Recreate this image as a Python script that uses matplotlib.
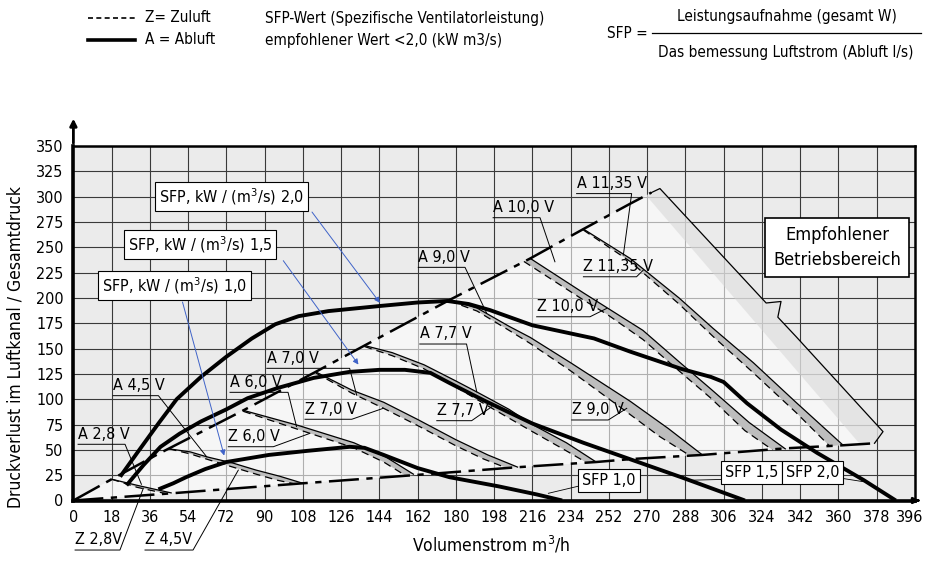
import numpy as np
import matplotlib.pyplot as plt
from matplotlib import font_manager as fm
from matplotlib.transforms import ScaledTranslation

# schmale Schrift, falls vorhanden
names = {f.name for f in fm.fontManager.ttflist}
files = [f.fname for f in fm.fontManager.ttflist]
if 'Liberation Sans Narrow' in names:
    plt.rcParams['font.family'] = ['Liberation Sans Narrow', 'DejaVu Sans']
elif any('DejaVuSansCondensed' in f for f in files):
    plt.rcParams['font.family'] = ['DejaVu Sans']
    plt.rcParams['font.stretch'] = 'condensed'
else:
    plt.rcParams['font.family'] = ['Roboto', 'DejaVu Sans']

W, H = 925, 580

# Achsenraster
x_ticks = list(range(0, 397, 18))
y_ticks = list(range(0, 351, 25))

# SFP-Linien (dick)
sfp20_x = [22, 30, 40, 48.6, 60, 72, 84, 95, 106, 120, 144, 162, 176, 186, 196, 216, 245, 262, 286, 300, 306, 317, 333, 350, 372, 387]
sfp20_y = [23.5, 47, 76, 100, 122, 142, 160, 174, 182, 187, 192, 195.5, 197, 194, 188, 173, 160, 147, 130, 122, 117, 96, 70, 47, 20, 0]
sfp15_x = [25, 33, 41, 50, 60, 72, 82, 96, 113, 130, 144, 156, 168, 177, 193, 216, 240, 263, 286, 316]
sfp15_y = [15, 35, 53, 66, 78, 90, 101, 111, 121, 127, 129, 129, 126, 116, 99, 76, 57, 40, 23, 0]
sfp10_x = [40, 47, 53, 62, 72, 92, 110, 130, 137, 146, 162, 177, 200, 218, 230]
sfp10_y = [11, 17, 23, 31, 38, 45, 49, 53, 52, 45, 32, 23, 14, 6, 0]

# Grenzen Betriebsbereich
upper_x = [0, 18, 40, 80, 114, 137, 177, 215, 240, 262, 272]
upper_y = [0, 21, 46, 89, 127, 153, 198, 239, 268, 293, 304]
right_x = [272, 276, 326, 333, 331.5, 340, 381, 377]
right_y = [304, 308, 195, 196.5, 181, 162, 68, 56.5]
lower_x = [0, 45.5, 108, 131, 160, 208.6, 246, 263, 296, 335, 362, 377]
lower_y = [0, 7, 17, 20.5, 25, 32.8, 38, 41, 45, 51.5, 54.5, 56.5]
band_x = [270, 276, 326, 333, 331.5, 340, 381, 377, 370]
band_y = [300, 308, 195, 196.5, 181, 162, 68, 56.5, 56]

# Ventilatorkennlinien A (Abluft) / Z (Zuluft)
a28_x, a28_y = [18, 30, 46], [21, 15, 7.5]
z28_x, z28_y = [18, 30, 43], [21, 13, 7]
a45_x, a45_y = [45, 55, 63, 75, 86, 97, 108], [51, 48, 43, 37, 30, 24, 17]
z45_x, z45_y = [45, 55, 64, 75, 86, 96, 104], [51, 46, 40, 33, 26, 20, 16.5]
a60_x, a60_y = [80, 106, 132, 147, 160], [89, 74, 57, 43, 26]
z60_x, z60_y = [80, 106, 132, 146, 156], [88, 70, 52, 38, 25]
a70_x, a70_y = [114, 131, 146, 162, 180, 195, 209], [127, 109, 97, 80, 60, 45, 33]
z70_x, z70_y = [114, 131, 146, 162, 180, 193, 204], [126, 106, 91, 74, 54, 41, 32]
a77_x, a77_y = [137, 150, 165, 180, 190, 205, 216, 232, 246], [153, 146, 134, 118, 107, 90, 75, 57, 38]
z77_x, z77_y = [137, 150, 165, 180, 197, 216, 232, 241], [152, 143, 130, 112, 91, 68, 49, 38]
a90_x, a90_y = [177, 190, 205, 215, 234, 262, 280, 296], [198, 190, 172, 161, 136, 98, 71, 45]
z90_x, z90_y = [177, 190, 205, 215, 234, 260, 276, 290], [197, 187, 168, 155, 128, 88, 63, 44.5]
a100_x, a100_y = [215, 240, 268, 285, 300, 318, 335], [239, 205, 168, 137, 110, 77, 51]
z100_x, z100_y = [212, 240, 251, 268, 285, 300, 316, 329], [236, 198, 184, 159, 128, 101, 69, 50]
a1135_x, a1135_y = [240, 262, 285, 301, 320, 340, 362], [268, 239, 200, 170, 136, 97, 55]
z1135_x, z1135_y = [240, 262, 285, 301, 320, 340, 356], [267, 236, 194, 162, 126, 87, 53.5]

fans = [(a28_x, a28_y, z28_x, z28_y), (a45_x, a45_y, z45_x, z45_y),
        (a60_x, a60_y, z60_x, z60_y), (a70_x, a70_y, z70_x, z70_y),
        (a77_x, a77_y, z77_x, z77_y), (a90_x, a90_y, z90_x, z90_y),
        (a100_x, a100_y, z100_x, z100_y), (a1135_x, a1135_y, z1135_x, z1135_y)]

fig = plt.figure(figsize=(W / 100, H / 100), dpi=100)
ax = fig.add_axes([73.4 / W, 79.5 / H, 841.5 / W, 354.5 / H])
ax.set_xlim(0, 396)
ax.set_ylim(0, 350)
ax.set_facecolor('#ebebeb')
ax.set_axisbelow(True)
ax.set_xticks(x_ticks)
ax.set_yticks(y_ticks)
ax.grid(True, color='#3a3a3a', lw=0.8)
ax.tick_params(length=0, labelsize=11.5, pad=7)
# letzte Beschriftung (396) nicht abschneiden
last = ax.get_xticklabels()[-1]
last.set_horizontalalignment('right')
last.set_transform(last.get_transform() + ScaledTranslation(8 / 100, 0, fig.dpi_scale_trans))

# Betriebsbereich
ax.fill(upper_x + right_x[1:] + lower_x[::-1], upper_y + right_y[1:] + lower_y[::-1],
        color='white', alpha=0.6, lw=0, zorder=1)
ax.fill(band_x, band_y, color='#d4d4d4', alpha=0.5, lw=0, zorder=1.5)

for axx, ayy, zxx, zyy in fans:
    ax.fill(axx + zxx[::-1], ayy + zyy[::-1], color='#bdbdbd', lw=0, zorder=2)
    ax.plot(axx, ayy, color='black', lw=0.9, zorder=3)
    ax.plot(zxx, zyy, color='black', lw=0.9, ls=(0, (6, 4)), zorder=3)

dashdot = (0, (12, 3, 2.5, 3))
ax.plot(upper_x, upper_y, color='black', lw=1.8, ls=dashdot, zorder=3.5)
ax.plot(lower_x, lower_y, color='black', lw=1.8, ls=dashdot, zorder=3.5)
ax.plot(right_x, right_y, color='black', lw=0.9, zorder=3.5)

for sx, sy in [(sfp20_x, sfp20_y), (sfp15_x, sfp15_y), (sfp10_x, sfp10_y)]:
    ax.plot(sx, sy, color='black', lw=2.8, solid_capstyle='butt', zorder=4)

for side in ['left', 'bottom']:
    ax.spines[side].set_linewidth(2.6)
for side in ['top', 'right']:
    ax.spines[side].set_linewidth(1.8)
ax.annotate('', xy=(0, 1.085), xytext=(0, 1.0), xycoords='axes fraction',
            arrowprops=dict(arrowstyle='-|>', lw=2, color='black', mutation_scale=10))
ax.annotate('', xy=(1.009, 0), xytext=(1.0, 0), xycoords='axes fraction',
            arrowprops=dict(arrowstyle='-|>', lw=2, color='black', mutation_scale=8))

# beschriftete Kennlinien
def tag(text, x0, y0, x1, tx, ty):
    ax.text(x0, y0 + 2.5, text, fontsize=11.5, ha='left', va='bottom', zorder=6, clip_on=False)
    ax.plot([x0, x1, tx], [y0, y0, ty], color='black', lw=0.7, zorder=6, clip_on=False)

tag('A 2,8 V', 2.2, 55.5, 24.3, 32, 16)
tag('A 4,5 V', 18.7, 103.5, 40, 62.7, 43.2)
tag('A 6,0 V', 73.7, 106.8, 101, 105, 73)
tag('A 7,0 V', 91, 130.5, 130, 133.3, 104)
tag('Z 6,0 V', 72.9, 53.1, 94.1, 111.3, 66.3)
tag('Z 7,0 V', 109, 80.2, 131, 145.8, 91)
tag('A 7,7 V', 163, 154.5, 185, 189.8, 107.4)
tag('Z 7,7 V', 171, 78.8, 187.4, 196.9, 92.6)
tag('Z 9,0 V', 234.5, 79.5, 251.7, 260.4, 91)
tag('A 9,0 V', 162.3, 230.2, 184.3, 194.5, 184.8)
tag('A 10,0 V', 197.5, 279.2, 219.6, 226.6, 235.7)
tag('Z 10,0 V', 218, 181.4, 243.1, 251, 189.7)
tag('A 11,35 V', 236.8, 303, 262.7, 258.8, 242.3)
tag('Z 11,35 V', 240, 220.9, 265, 268.2, 227.5)
tag('Z 2,8V', 0.8, -48.9, 21.9, 32.9, 12)
tag('Z 4,5V', 33.7, -48.9, 56.3, 77.6, 30)

# SFP-Kästen mit Pfeilen
box = dict(boxstyle='square,pad=0.25', fc='white', ec='black', lw=0.8)
blue = '#3f63c8'
for txt, bx, by, sx, sy, tx, ty in [
        ('SFP, kW / (m$^3$/s) 2,0', 74.2, 300, 111.5, 287, 145, 193),
        ('SFP, kW / (m$^3$/s) 1,5', 59.5, 252.7, 98, 239, 134.9, 132),
        ('SFP, kW / (m$^3$/s) 1,0', 47.7, 212.2, 51, 198.6, 71.3, 41.7)]:
    ax.text(bx, by, txt, fontsize=11.5, ha='center', va='center', bbox=box, zorder=7)
    ax.annotate('', xy=(tx, ty), xytext=(sx, sy),
                arrowprops=dict(arrowstyle='-|>', color=blue, lw=0.7, mutation_scale=8), zorder=7)

for txt, bx, by, sx, sy, tx, ty in [
        ('SFP 1,0', 252, 20.2, 240, 15.3, 223.5, 7.1),
        ('SFP 1,5', 319, 27.3, 307.1, 20.9, 290, 20),
        ('SFP 2,0', 347.7, 27.3, 361.6, 21.9, 371.7, 18.6)]:
    ax.plot([sx, tx], [sy, ty], color='black', lw=0.6, zorder=6)
    ax.text(bx, by, txt, fontsize=11.5, ha='center', va='center', bbox=box, zorder=7)

ax.text(359.4, 249.8, 'Empfohlener\nBetriebsbereich', fontsize=13, ha='center', va='center',
        linespacing=1.5, bbox=dict(boxstyle='square,pad=0.45', fc='white', ec='black', lw=1.2), zorder=7)

# Achsentitel
fig.text(16 / W, 1 - 347 / H, 'Druckverlust im Luftkanal / Gesamtdruck', rotation=90,
         fontsize=12.5, ha='center', va='center')
fig.text(491 / W, 1 - 545 / H, 'Volumenstrom m$^3$/h', fontsize=12.5, ha='center', va='center')

# Kopfzeile
fig.add_artist(plt.Line2D([88 / W, 135 / W], [1 - 18 / H, 1 - 18 / H], color='black', lw=1.2, ls=(0, (3, 2))))
fig.add_artist(plt.Line2D([88 / W, 135 / W], [1 - 40 / H, 1 - 40 / H], color='black', lw=2.6))
fig.text(145 / W, 1 - 18 / H, 'Z= Zuluft', fontsize=11, va='center')
fig.text(145 / W, 1 - 40 / H, 'A = Abluft', fontsize=11, va='center')
fig.text(265 / W, 1 - 18 / H, 'SFP-Wert (Spezifische Ventilatorleistung)', fontsize=11, va='center')
fig.text(265 / W, 1 - 40 / H, 'empfohlener Wert <2,0 (kW m3/s)', fontsize=11, va='center')
fig.text(648 / W, 1 - 33 / H, 'SFP =', fontsize=11, ha='right', va='center')
fig.add_artist(plt.Line2D([652 / W, 921 / W], [1 - 33 / H, 1 - 33 / H], color='black', lw=0.9))
fig.text(787 / W, 1 - 16 / H, 'Leistungsaufnahme (gesamt W)', fontsize=11, ha='center', va='center')
fig.text(786 / W, 1 - 52 / H, 'Das bemessung Luftstrom (Abluft l/s)', fontsize=11, ha='center', va='center')

fig.savefig('out.png', dpi=100)
